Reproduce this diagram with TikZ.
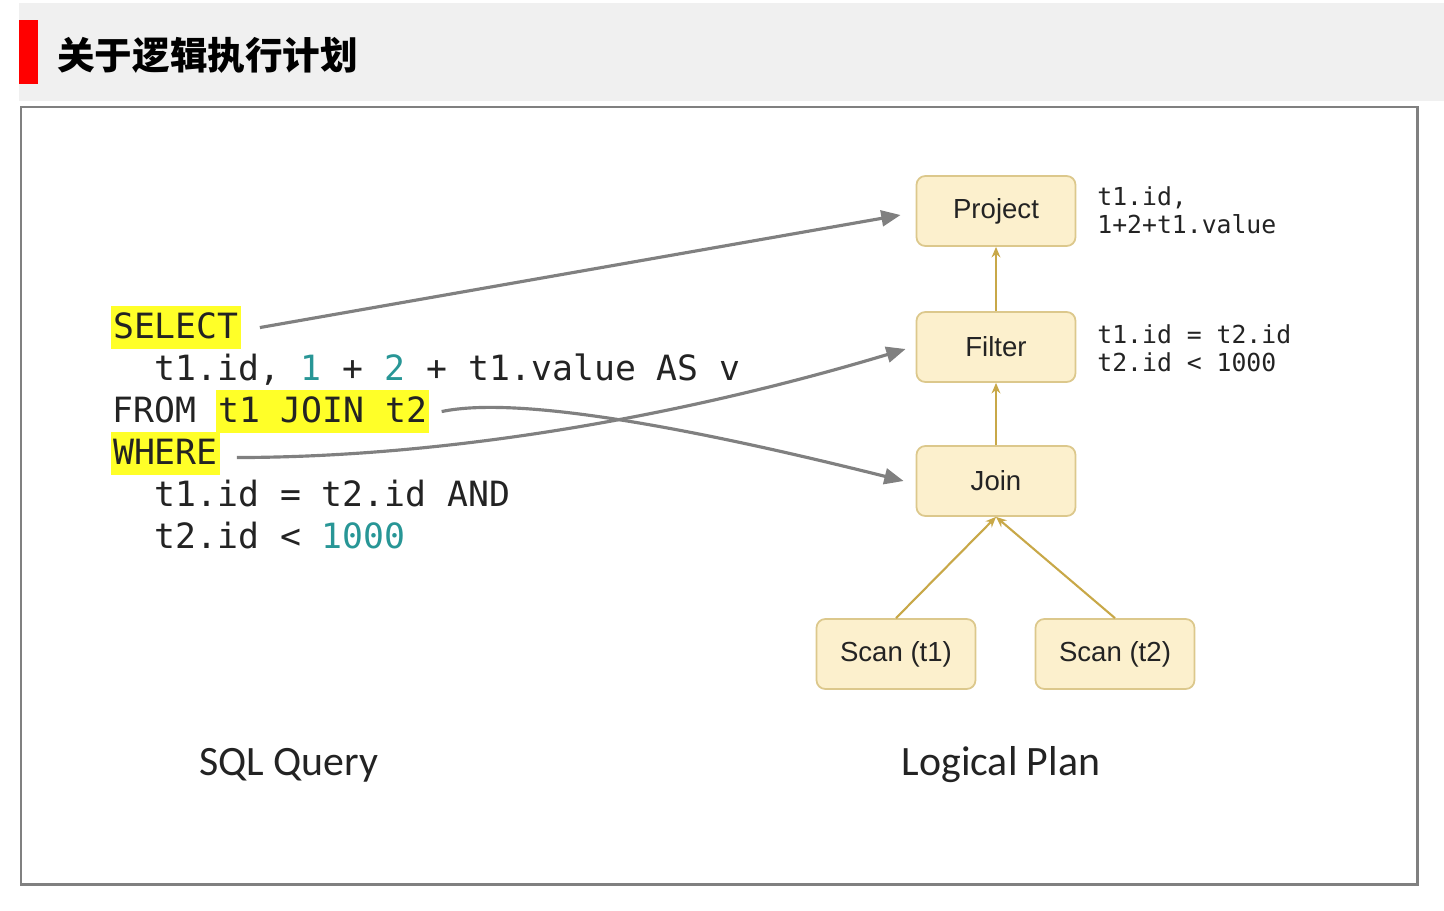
\documentclass[tikz,border=0pt]{standalone}
\usepackage{fontspec}
\usepackage{xcolor}
\usepackage{tikz}
\usetikzlibrary{arrows.meta, positioning, calc}
\newfontfamily\cjkfont{Noto Sans CJK SC}
\newfontfamily\codefont{DejaVu Sans Mono}
\newfontfamily\planfont{Liberation Sans}
\newfontfamily\capfont{Carlito}
\definecolor{myred}{RGB}{255,0,0}
\definecolor{mybar}{RGB}{240,240,240}
\definecolor{myframe}{RGB}{128,128,128}
\definecolor{mydark}{RGB}{35,35,35}
\definecolor{myteal}{RGB}{40,150,150}
\definecolor{myhl}{RGB}{255,255,40}
\definecolor{mygray}{RGB}{128,128,128}
\definecolor{mygold}{RGB}{200,168,72}
\definecolor{hdrcream}{RGB}{252,240,205}
\definecolor{mytan}{RGB}{220,200,140}
\newcommand{\numc}[1]{\textcolor{myteal}{#1}}
\tikzset{
  plannode/.style={rectangle, draw=mytan, fill=hdrcream,
    minimum width=3.18cm, minimum height=1.4cm,
    font=\planfont\fontsize{15.7}{18}\selectfont, text=mydark,
    rounded corners=5pt, line width=1pt},
  sqltext/.style={anchor=base west, inner sep=0pt,
    font=\codefont\fontsize{19.8}{23}\selectfont, text=mydark},
  sqlhl/.style={sqltext, fill=myhl, inner xsep=1pt,
    text height=18.1pt, text depth=6.2pt},
  note/.style={anchor=west, inner sep=0pt, align=left,
    font=\codefont\fontsize{14.1}{16.2}\selectfont, text=mydark},
  caption/.style={font=\capfont\fontsize{23.8}{28}\selectfont, text=mydark},
  maparrow/.style={-{Triangle[length=11pt,width=9pt]}, line width=1.8pt, color=mygray},
  treearrow/.style={-{Stealth[length=6pt,width=5pt]}, line width=1.2pt, color=mygold}
}
\begin{document}
\begin{tikzpicture}[x=0.02cm, y=-0.02cm]
  \useasboundingbox (0,0) rectangle (1444,910);

  % Title bar with red marker
  \fill[mybar] (19,3) rectangle (1444,101);
  \fill[myred] (19,20) rectangle (38,84);
  \node[anchor=west, inner sep=0pt, font=\cjkfont\bfseries\fontsize{21.4}{24}\selectfont] (title) at (57,55)
    {关于逻辑执行计划};

  % Outer frame
  \draw[myframe, line width=1.7pt] (21,107) rectangle (1417,884);

  % SQL query, one line per node
  \node[sqlhl]   (sel) at (111,338) {SELECT};
  \node[sqltext] (ln2) at (154,380) {t1.id, \numc{1} + \numc{2} + t1.value AS v};
  \node[sqltext] (frm) at (112,422) {FROM};
  \node[sqlhl]   (jn)  at (216,422) {t1 JOIN t2};
  \node[sqlhl]   (whr) at (111,464) {WHERE};
  \node[sqltext] (ln5) at (154,506) {t1.id = t2.id AND};
  \node[sqltext] (ln6) at (154,548) {t2.id < \numc{1000}};

  % Logical plan tree
  \node[plannode] (proj)  at (996,211) {Project};
  \node[plannode] (filt)  at (996,347) {Filter};
  \node[plannode] (join)  at (996,481) {Join};
  \node[plannode] (scan1) at (896,654) {Scan (t1)};
  \node[plannode] (scan2) at (1115,654) {Scan (t2)};

  \node[note] (projnote) at (1097,210) {t1.id,\\1+2+t1.value};
  \node[note] (filtnote) at (1097,348) {t1.id = t2.id\\t2.id < 1000};

  \draw[treearrow] (filt.north) -- (proj.south);
  \draw[treearrow] (join.north) -- (filt.south);
  \draw[treearrow] (scan1.north) -- (join.south);
  \draw[treearrow] (scan2.north) -- (join.south);

  % Mapping from query clauses to plan operators
  \draw[maparrow] ([xshift=0.38cm]sel.east) -- ([xshift=-0.3cm,yshift=-0.08cm]proj.west);
  \draw[maparrow] ([xshift=0.24cm]jn.east) .. controls (520,395) and (700,430) .. ([xshift=-0.24cm]join.west);
  \draw[maparrow] ([xshift=0.34cm,yshift=-0.08cm]whr.east) .. controls (480,457) and (720,405) .. ([xshift=-0.2cm,yshift=-0.04cm]filt.west);

  % Captions
  \node[caption] (sqlcap)  at (289,765) {SQL Query};
  \node[caption] (plancap) at (1001,765) {Logical Plan};
\end{tikzpicture}
\end{document}
